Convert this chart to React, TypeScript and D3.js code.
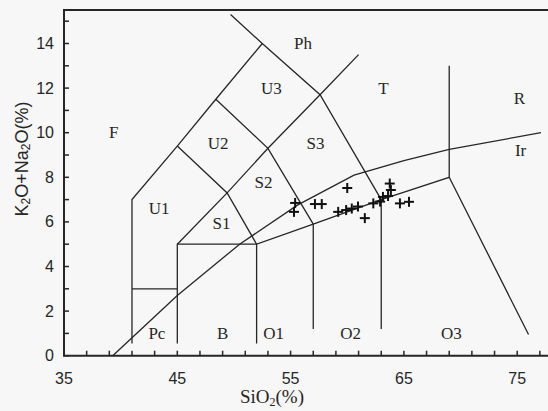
import React from "react"
import * as d3 from "d3"

const WIDTH = 548
const HEIGHT = 411

// axis ticks
const X_LABELS = [35, 45, 55, 65, 75]
const X_MINOR = d3.range(35, 80, 2)
const Y_LABELS = [0, 2, 4, 6, 8, 10, 12, 14]
const Y_MINOR = d3.range(0, 16, 1)

// TAS field boundaries, [SiO2, K2O+Na2O]
const FIELD_LINES: [number, number][][] = [
  [[41, 0.55], [41, 7], [45, 9.4], [48.4, 11.5], [52.5, 14], [49.7, 15.3]],
  [[41, 3], [45, 3]],
  [[45, 0.55], [45, 5], [52, 5]],
  [[52, 0.55], [52, 5], [57, 5.9], [63, 7], [69, 8], [76, 0.95]],
  [[57, 1.2], [57, 5.9]],
  [[63, 1.2], [63, 7]],
  [[69, 8], [69, 13]],
  [[45, 5], [49.4, 7.3], [53, 9.3], [57.6, 11.7], [61, 13.5]],
  [[45, 9.4], [49.4, 7.3], [52, 5]],
  [[48.4, 11.5], [53, 9.3], [57, 5.9]],
  [[52.5, 14], [57.6, 11.7], [63, 7]],
]

// Irvine & Baragar alkaline / subalkaline divide
const IR_LINE: [number, number][] = [
  [39.3, 0], [45, 2.7], [50.5, 5], [55.6, 6.75], [60.6, 8.1], [65, 8.75], [69, 9.25], [77.1, 10],
]

// field names and where they sit
const FIELD_NAMES = ["F", "U1", "U2", "U3", "S1", "S2", "S3", "Ph", "T", "R", "Ir", "Pc", "B", "O1", "O2", "O3"]
const FIELD_SIO2 = [39.4, 43.4, 48.6, 53.3, 48.9, 52.6, 57.2, 56.1, 63.2, 75.2, 75.3, 43.2, 49.0, 53.5, 60.3, 69.2]
const FIELD_ALK = [10.0, 6.6, 9.5, 12.0, 5.95, 7.75, 9.5, 14.0, 12.0, 11.55, 9.2, 1.0, 1.0, 1.0, 1.0, 1.0]

// samples
const SAMPLE_SIO2 = [55.4, 55.3, 57.15, 57.75, 60.0, 59.2, 59.9, 60.4, 60.95, 61.55, 62.3, 62.9, 63.15, 63.6, 63.85, 63.75, 64.65, 65.45]
const SAMPLE_ALK = [6.85, 6.45, 6.8, 6.8, 7.52, 6.45, 6.53, 6.6, 6.69, 6.17, 6.83, 6.91, 7.12, 7.16, 7.43, 7.72, 6.83, 6.9]

const INK = "#262626"

export default function App() {
  const x = d3.scaleLinear().domain([35, 80]).range([64, 64 + 45 * 11.33])
  const y = d3.scaleLinear().domain([0, 15.5]).range([355.7, 355.7 - 15.5 * 22.3])
  const line = d3
    .line<[number, number]>()
    .x(d => x(d[0]))
    .y(d => y(d[1]))

  const x0 = x(35)
  const y0 = y(0)
  const yTop = y(15.5)
  const xRight = x(80)

  return (
    <svg
      width={WIDTH}
      height={HEIGHT}
      style={{ position: "absolute", left: 0, top: 0, background: "#f7f7f7" }}
    >
      {/* frame */}
      <path
        d={`M${xRight},${yTop}H${x0}V${y0}H${xRight}`}
        fill="none"
        stroke={INK}
        strokeWidth={2}
      />

      {/* y ticks */}
      {Y_MINOR.map(t => (
        <line key={"ym" + t} x1={x0} x2={x0 + 5} y1={y(t)} y2={y(t)} stroke={INK} strokeWidth={1.5} />
      ))}
      {Y_LABELS.map(t => (
        <text
          key={"yl" + t}
          x={x0 - 10}
          y={y(t)}
          fontSize={16}
          fontFamily="Liberation Sans, Arial, sans-serif"
          textAnchor="end"
          dominantBaseline="central"
          fill={INK}
        >
          {t}
        </text>
      ))}

      {/* x ticks */}
      {X_MINOR.map(t => (
        <line key={"xm" + t} x1={x(t)} x2={x(t)} y1={y0} y2={y0 - 5} stroke={INK} strokeWidth={1.5} />
      ))}
      {X_LABELS.map(t => (
        <text
          key={"xl" + t}
          x={x(t)}
          y={y0 + 23}
          fontSize={16}
          fontFamily="Liberation Sans, Arial, sans-serif"
          textAnchor="middle"
          dominantBaseline="central"
          fill={INK}
        >
          {t}
        </text>
      ))}

      {/* axis titles */}
      <text
        x={272}
        y={403}
        fontSize={19}
        fontFamily="Liberation Serif, Times New Roman, serif"
        textAnchor="middle"
        fill={INK}
      >
        SiO<tspan fontSize={12} dy={3}>2</tspan>
        <tspan dy={-3}>(%)</tspan>
      </text>
      <text
        transform="translate(22,159) rotate(-90)"
        fontSize={18}
        fontFamily="Liberation Sans, Arial, sans-serif"
        textAnchor="middle"
        dominantBaseline="central"
        fill={INK}
      >
        K<tspan fontSize={12} dy={4}>2</tspan>
        <tspan dy={-4}>O+Na</tspan>
        <tspan fontSize={12} dy={4}>2</tspan>
        <tspan dy={-4}>O(%)</tspan>
      </text>

      {/* field boundaries */}
      {FIELD_LINES.map((pts, i) => (
        <path key={"f" + i} d={line(pts) ?? ""} fill="none" stroke={INK} strokeWidth={1.3} />
      ))}
      <path d={line(IR_LINE) ?? ""} fill="none" stroke={INK} strokeWidth={1.3} />

      {/* field labels */}
      {FIELD_NAMES.map((name, i) => (
        <text
          key={name}
          x={x(FIELD_SIO2[i])}
          y={y(FIELD_ALK[i])}
          fontSize={17}
          fontFamily="Liberation Serif, Times New Roman, serif"
          textAnchor="middle"
          dominantBaseline="central"
          fill={INK}
        >
          {name}
        </text>
      ))}

      {/* samples */}
      {SAMPLE_SIO2.map((s, i) => {
        const cx = x(s)
        const cy = y(SAMPLE_ALK[i])
        return (
          <g key={"s" + i} stroke="#111" strokeWidth={2}>
            <line x1={cx - 5} x2={cx + 5} y1={cy} y2={cy} />
            <line x1={cx} x2={cx} y1={cy - 5} y2={cy + 5} />
          </g>
        )
      })}
    </svg>
  )
}
